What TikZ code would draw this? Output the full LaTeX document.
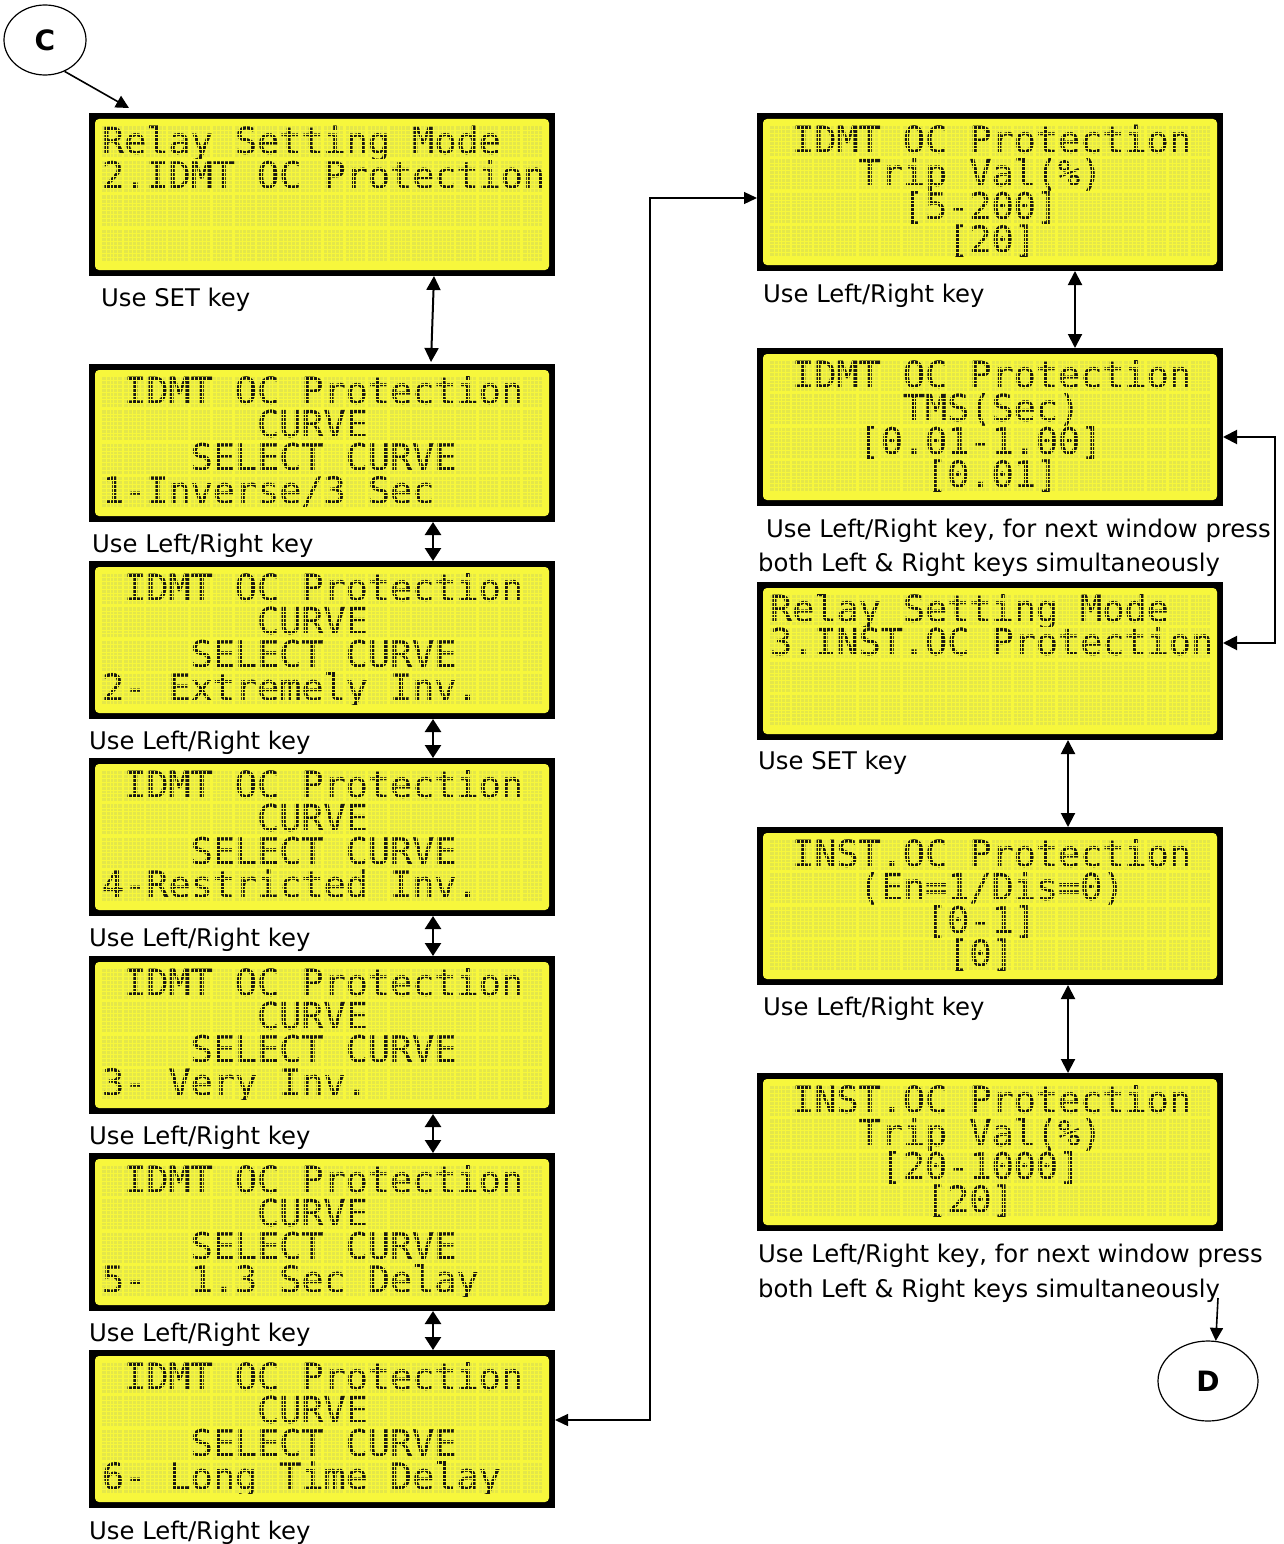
\documentclass[tikz,border=0pt]{standalone}
\usepackage{fontspec}
\setmainfont{DejaVu Sans}
\newfontfamily\lcdfont{DejaVu Sans Mono}[FakeBold=0.6]
\usetikzlibrary{arrows.meta,calc,shapes.geometric}

\definecolor{lcdbg}{RGB}{247,247,60}
\definecolor{lcdcell}{RGB}{228,231,74}
\definecolor{lcdink}{RGB}{25,25,18}

\tikzset{
  lcdframe/.style={rectangle, fill=black, draw=none, minimum width=466pt,
    inner sep=0pt, outer sep=0pt, anchor=north west},
  lcdtxt/.style={font=\lcdfont\fontsize{36.8}{40}\selectfont, text=lcdink,
    anchor=base west, inner sep=0pt, outer sep=0pt},
  lcdgap/.style={draw=lcdbg, line width=0.55pt},
  note/.style={font=\fontsize{24.3}{29}\selectfont, anchor=base west,
    inner sep=0pt, text=black},
  badge/.style={draw, ellipse, line width=1.2pt, inner sep=0pt,
    font=\bfseries\fontsize{28}{32}\selectfont},
  biarrow/.style={line width=2pt,
    {Triangle[length=14pt,width=14pt]}-{Triangle[length=14pt,width=14pt]}},
  bishort/.style={line width=2.6pt,
    {Triangle[length=13pt,width=16pt]}-{Triangle[length=13pt,width=16pt]}},
  bithin/.style={line width=1.3pt,
    {Triangle[length=13pt,width=12pt]}-{Triangle[length=13pt,width=12pt]}},
  onearrow/.style={line width=1.6pt, -{Triangle[length=13pt,width=13pt]}},
}

% one text line of a 20x4 character display: row, column, text
\newcommand\lcdline[3]{%
  \begin{scope}
    \clip ($(\lcdname.north west)+(8,13+#1*\rowp-1)$) rectangle +(452,\cellh+2);
    \node[lcdtxt] at ($(\lcdname.north west)+(13+#2*22.15,13+#1*\rowp+0.875*\cellh+0.3)$) {#3};
  \end{scope}}

% character display: name, x, y (top left), height, text lines
\newcommand\lcdbox[5]{%
  \def\lcdname{#1}%
  \pgfmathsetmacro\rowp{(#4-25)/4}%
  \pgfmathsetmacro\cellh{\rowp-3.2}%
  \node[lcdframe, minimum height=#4pt] (#1) at (#2,#3) {};
  \fill[lcdbg, rounded corners=4pt] ($(#1.north west)+(6,6)$) rectangle ($(#1.south east)+(-6,-6)$);
  \foreach \r in {0,...,3}{\foreach \c in {0,...,19}{
    \fill[lcdcell] ($(#1.north west)+(13+\c*22.15,13+\r*\rowp)$) rectangle +(19.6,\cellh);}}
  #5
  % gaps between the dots of the 5x8 matrix
  \foreach \r in {0,...,3}{\foreach \k in {1,...,7}{
    \draw[lcdgap] ($(#1.north west)+(13,13+\r*\rowp+\k*\cellh/8)$) -- +(440.5,0);}}
  \foreach \c in {0,...,19}{\foreach \k in {1,...,4}{
    \draw[lcdgap] ($(#1.north west)+(13+\c*22.15+\k*3.92,13)$) -- +(0,3*\rowp+\cellh);}}
}

\begin{document}
\begin{tikzpicture}[x=1pt,y=-1pt]
\fill[white] (0,0) rectangle (1284,1544);
\useasboundingbox (0,0) rectangle (1284,1544);

% ---- left column: curve selection ----
\lcdbox{b1}{89}{113}{163}{%
  \lcdline{0}{0}{Relay Setting Mode}
  \lcdline{1}{0}{2.IDMT OC Protection}}
\lcdbox{b2}{89}{364}{158}{%
  \lcdline{0}{1}{IDMT OC Protection}
  \lcdline{1}{7}{CURVE}
  \lcdline{2}{4}{SELECT CURVE}
  \lcdline{3}{0}{1-Inverse/3 Sec}}
\lcdbox{b3}{89}{561}{158}{%
  \lcdline{0}{1}{IDMT OC Protection}
  \lcdline{1}{7}{CURVE}
  \lcdline{2}{4}{SELECT CURVE}
  \lcdline{3}{0}{2-}\lcdline{3}{3}{Extremely Inv.}}
\lcdbox{b4}{89}{758}{158}{%
  \lcdline{0}{1}{IDMT OC Protection}
  \lcdline{1}{7}{CURVE}
  \lcdline{2}{4}{SELECT CURVE}
  \lcdline{3}{0}{4-Restricted Inv.}}
\lcdbox{b5}{89}{956}{158}{%
  \lcdline{0}{1}{IDMT OC Protection}
  \lcdline{1}{7}{CURVE}
  \lcdline{2}{4}{SELECT CURVE}
  \lcdline{3}{0}{3-}\lcdline{3}{3}{Very Inv.}}
\lcdbox{b6}{89}{1153}{158}{%
  \lcdline{0}{1}{IDMT OC Protection}
  \lcdline{1}{7}{CURVE}
  \lcdline{2}{4}{SELECT CURVE}
  \lcdline{3}{0}{5-}\lcdline{3}{4}{1.3 Sec Delay}}
\lcdbox{b7}{89}{1350}{158}{%
  \lcdline{0}{1}{IDMT OC Protection}
  \lcdline{1}{7}{CURVE}
  \lcdline{2}{4}{SELECT CURVE}
  \lcdline{3}{0}{6-}\lcdline{3}{3}{Long Time Delay}}

% ---- right column: settings ----
\lcdbox{r1}{757}{113}{158}{%
  \lcdline{0}{1}{IDMT OC Protection}
  \lcdline{1}{4}{Trip Val(\%)}
  \lcdline{2}{6}{[5-200]}
  \lcdline{3}{8}{[20]}}
\lcdbox{r2}{757}{348}{158}{%
  \lcdline{0}{1}{IDMT OC Protection}
  \lcdline{1}{6}{TMS(Sec)}
  \lcdline{2}{4}{[0.01-1.00]}
  \lcdline{3}{7}{[0.01]}}
\lcdbox{r3}{757}{582}{158}{%
  \lcdline{0}{0}{Relay Setting Mode}
  \lcdline{1}{0}{3.INST.OC Protection}}
\lcdbox{r4}{757}{827}{158}{%
  \lcdline{0}{1}{INST.OC Protection}
  \lcdline{1}{4}{(En=1/Dis=0)}
  \lcdline{2}{7}{[0-1]}
  \lcdline{3}{8}{[0]}}
\lcdbox{r5}{757}{1073}{158}{%
  \lcdline{0}{1}{INST.OC Protection}
  \lcdline{1}{4}{Trip Val(\%)}
  \lcdline{2}{5}{[20-1000]}
  \lcdline{3}{7}{[20]}}

% ---- key hints ----
\node[note] (n1) at (101,306) {Use SET key};
\node[note] (n2) at (92,552) {Use Left/Right key};
\node[note] (n3) at (89,749) {Use Left/Right key};
\node[note] (n4) at (89,946) {Use Left/Right key};
\node[note] (n5) at (89,1144) {Use Left/Right key};
\node[note] (n6) at (89,1341) {Use Left/Right key};
\node[note] (n7) at (89,1539) {Use Left/Right key};
\node[note] (m1) at (763,302) {Use Left/Right key};
\node[note] (m2a) at (766,537) {Use Left/Right key, for next window press};
\node[note] (m2b) at (758,571) {both Left \& Right keys simultaneously};
\node[note] (m3) at (758,769) {Use SET key};
\node[note] (m4) at (763,1015) {Use Left/Right key};
\node[note] (m5a) at (758,1262) {Use Left/Right key, for next window press};
\node[note] (m5b) at (758,1297) {both Left \& Right keys simultaneously};

% ---- off-page connectors ----
\node[badge, minimum width=82pt, minimum height=70pt] (C) at (45,40) {C};
\node[badge, minimum width=100pt, minimum height=80pt] (D) at (1208,1381) {D};
\coordinate (dstart) at (1218,1298);

% ---- connectors ----
\draw[onearrow] (C.-58) -- ($(b1.north west)+(40,-5)$);
\draw[biarrow] ($(b1.south)+(112,0)$) -- ($(b2.north)+(109,-2)$);
\draw[bishort] ($(b2.south)+(111,0)$) -- ($(b3.north)+(111,0)$);
\draw[bishort] ($(b3.south)+(111,0)$) -- ($(b4.north)+(111,0)$);
\draw[bishort] ($(b4.south)+(111,0)$) -- ($(b5.north)+(111,0)$);
\draw[bishort] ($(b5.south)+(111,0)$) -- ($(b6.north)+(111,0)$);
\draw[bishort] ($(b6.south)+(111,0)$) -- ($(b7.north)+(111,0)$);
\draw[bithin] ($(b7.east)+(0,-9)$) -- ++(95,0) |- ($(r1.west)+(0,6)$);
\draw[biarrow] ($(r1.south)+(85,0)$) -- ($(r2.north)+(85,0)$);
\draw[biarrow] ($(r2.east)+(0,10)$) -- ++(52,0) |- ($(r3.east)+(0,-18)$);
\draw[biarrow] ($(r3.south)+(78,0)$) -- ($(r4.north)+(78,0)$);
\draw[biarrow] ($(r4.south)+(78,0)$) -- ($(r5.north)+(78,0)$);
\draw[onearrow] (dstart) -- (D.79);
\end{tikzpicture}
\end{document}
